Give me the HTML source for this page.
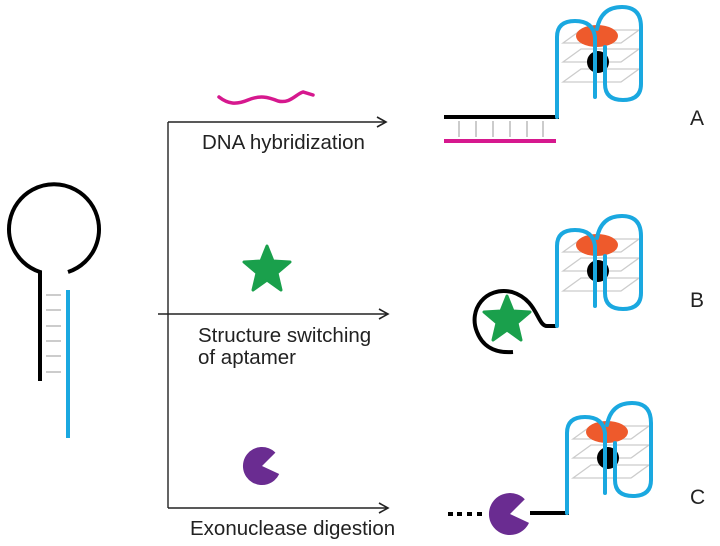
<!DOCTYPE html>
<html><head><style>body{margin:0;background:#fff}svg{display:block}text{font-family:"Liberation Sans",sans-serif;fill:#222}</style></head><body>
<svg width="720" height="546" viewBox="0 0 720 546">
<defs>
<marker id="ar" markerWidth="12" markerHeight="12" refX="10" refY="6" orient="auto" markerUnits="userSpaceOnUse"><path d="M1,1 L10,6 L1,11" fill="none" stroke="#222" stroke-width="1.6"/></marker>
<g id="g4">
<g stroke="#ccc" stroke-width="1.3" fill="none">
<path d="M6,-74 L24,-87 L82,-87 L64,-74 Z"/>
<path d="M6,-55 L24,-68 L82,-68 L64,-55 Z"/>
<path d="M6,-35 L24,-48 L82,-48 L64,-35 Z"/>
</g>
<ellipse cx="40" cy="-81" rx="21" ry="11" fill="#ee5a2c"/>
<circle cx="41" cy="-55" r="11" fill="#000"/>
<g stroke="#1aa8e0" stroke-width="4" fill="none" stroke-linecap="round">
<path d="M0,0 V-80 Q0,-96 18,-96 Q36,-96 38,-80 V-20"/>
<path d="M40,-88 Q44,-110 65,-110 Q84,-110 84,-90 V-33 Q84,-17 66,-17 Q48,-17 48,-33 V-70"/>
</g>
</g>
</defs>
<path d="M40,381 V272 A45,45 0 1 1 68,272" fill="none" stroke="#000" stroke-width="4"/>
<line x1="68" y1="290" x2="68" y2="438" stroke="#1aa8e0" stroke-width="4"/>
<g stroke="#ccc" stroke-width="2"><line x1="46" y1="295" x2="61" y2="295"/><line x1="46" y1="310" x2="61" y2="310"/><line x1="46" y1="326" x2="61" y2="326"/><line x1="46" y1="341" x2="61" y2="341"/><line x1="46" y1="356" x2="61" y2="356"/><line x1="46" y1="372" x2="61" y2="372"/></g>
<g stroke="#222" stroke-width="1.4" fill="none">
<line x1="168" y1="122" x2="168" y2="508"/>
<line x1="168" y1="122" x2="386" y2="122" marker-end="url(#ar)"/>
<line x1="158" y1="314" x2="388" y2="314" marker-end="url(#ar)"/>
<line x1="168" y1="508" x2="388" y2="508" marker-end="url(#ar)"/>
</g>
<text x="202" y="149" font-size="20.5">DNA hybridization</text>
<text x="198" y="342" font-size="20.5">Structure switching</text>
<text x="198" y="364" font-size="20.5">of aptamer</text>
<text x="190" y="535" font-size="20.5">Exonuclease digestion</text>
<text x="690" y="125" font-size="21">A</text>
<text x="690" y="307" font-size="21">B</text>
<text x="690" y="504" font-size="21">C</text>
<path d="M219,97 C228,104 236,105 248,100 C260,95 268,97 278,101 C290,104 296,94 303,92 L313,95" fill="none" stroke="#d6188e" stroke-width="3.5" stroke-linecap="round"/>
<polygon points="267,246 273,261 290,262 277,273 281,290 267,280 253,290 257,273 244,262 261,261" fill="#1aa04c" stroke="#1aa04c" stroke-width="3" stroke-linejoin="round"/>
<path d="M262,466 L275.4,452.6 A19,19 0 1 0 279.2,474 Z" fill="#6a2c91"/>
<line x1="444" y1="117" x2="559" y2="117" stroke="#000" stroke-width="4"/>
<line x1="444" y1="141" x2="556" y2="141" stroke="#d6188e" stroke-width="4"/>
<g stroke="#ccc" stroke-width="2"><line x1="459" y1="121" x2="459" y2="137"/><line x1="476" y1="121" x2="476" y2="137"/><line x1="493" y1="121" x2="493" y2="137"/><line x1="510" y1="121" x2="510" y2="137"/><line x1="527" y1="121" x2="527" y2="137"/><line x1="543" y1="121" x2="543" y2="137"/></g>
<use href="#g4" x="557" y="117"/>
<path d="M557,326 H547 C537,326 538,300 512,292 C485,286 468,310 477,332 C484,350 500,353 513,352" fill="none" stroke="#000" stroke-width="4"/>
<polygon points="507,296 513,311 530,312 517,323 521,340 507,330 493,340 497,323 484,312 501,311" fill="#1aa04c" stroke="#1aa04c" stroke-width="3" stroke-linejoin="round"/>
<use href="#g4" x="557" y="326"/>
<g fill="#000"><rect x="448" y="512" width="5" height="4"/><rect x="457" y="512" width="5" height="4"/><rect x="467" y="512" width="5" height="4"/><rect x="477" y="512" width="5" height="4"/></g>
<path d="M510,514 L524.8,499.2 A21,21 0 1 0 529,522.9 Z" fill="#6a2c91"/>
<line x1="530" y1="513" x2="569" y2="513" stroke="#000" stroke-width="4"/>
<use href="#g4" x="567" y="513"/>
</svg>
</body></html>
